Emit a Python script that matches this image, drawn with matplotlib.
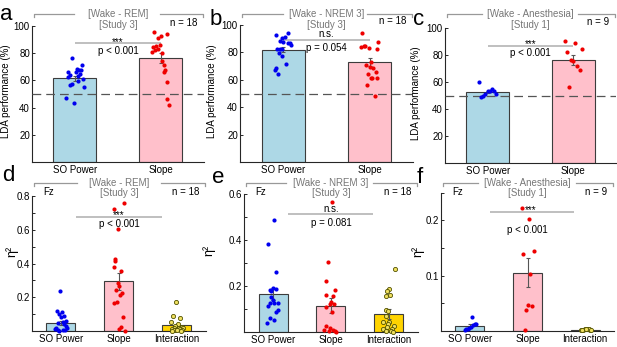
import numpy as np
import matplotlib.pyplot as plt
from matplotlib import transforms

plt.rcParams['font.family'] = ['Liberation Sans', 'DejaVu Sans']
plt.rcParams['font.size'] = 7

W, H = 617, 347

# ---------------- data ----------------
top_groups = ['SO Power', 'Slope']
bottom_groups = ['SO Power', 'Slope', 'Interaction']

# a: Wake - REM (Study 3), LDA performance
a_so = [76.5, 71, 68, 68.5, 66, 66, 65, 63, 64, 61, 59.5, 57.5, 56.5, 55.5, 47, 43.5, 62.5, 67.5]
a_so_jit = [-0.03, 0.08, 0.05, 0.02, -0.08, 0.01, 0.06, 0.04, -0.06, 0.09, 0.03, -0.04, -0.06, 0.10, -0.10, -0.01, -0.08, 0.07]
a_slope = [95.5, 94, 92.5, 91, 86, 84.5, 85, 83, 82, 81, 80.5, 74.5, 71, 67.5, 66, 59, 46.5, 42]
a_slope_jit = [-0.08, 0.07, 0, -0.03, -0.01, -0.09, -0.06, -0.04, -0.07, -0.10, 0.01, 0.01, 0.03, 0.05, 0.03, 0.07, 0.07, 0.09]
a_mean = [61.5, 76.5]
a_sem = [1.8, 3.5]

# b: Wake - NREM 3 (Study 3)
b_so = [92.4, 93.9, 90.2, 91, 88.5, 87.8, 86.6, 87.1, 85.4, 82.2, 82.2, 79.8, 77.3, 68.3, 67.1, 71.5, 63.9, 82.5]
b_so_jit = [-0.085, 0.05, -0.01, 0.02, -0.04, 0, 0.06, 0.08, 0.085, -0.07, -0.04, -0.05, -0.01, -0.085, -0.1, 0.03, -0.055, -0.02]
b_slope = [93.9, 84.1, 84.9, 84.6, 82.9, 82.2, 87.8, 73.2, 70.7, 69.5, 68.3, 65.9, 64.1, 61.5, 61, 61.5, 56.1, 48.0]
b_slope_jit = [-0.09, -0.1, -0.07, -0.05, -0.01, 0.08, 0.1, 0.01, -0.04, 0, 0.04, 0.07, -0.02, 0.01, 0.03, 0.085, -0.03, 0.065]
b_mean = [82, 73]
b_sem = [2.0, 3.0]

# c: Wake - Anesthesia (Study 1)
c_so = [59.7, 48.8, 49.8, 51.2, 53, 53.7, 54.7, 53, 51.2]
c_so_jit = [-0.105, -0.08, -0.055, -0.035, 0, 0.025, 0.05, 0.075, 0.1]
c_slope = [90.6, 88.9, 84.4, 82.2, 76, 75.7, 71.5, 69.1, 56.2]
c_slope_jit = [-0.1, 0.025, 0.1, -0.07, -0.025, 0, 0.04, 0.075, -0.05]
c_mean = [52.5, 76.5]
c_sem = [1.0, 3.6]

# d: eta^2, Wake - REM
d_so = [0.24, 0.12, 0.11, 0.10, 0.09, 0.085, 0.06, 0.055, 0.045, 0.04, 0.03, 0.02, 0.015, 0.01, 0.008, 0.005, 0.003, 0.002]
d_so_jit = [-0.02, -0.07, 0.02, -0.03, 0.05, 0.0, 0.08, 0.04, -0.05, 0.06, 0.09, -0.08, 0.1, -0.1, 0.03, -0.06, 0.07, -0.04]
d_slope = [0.723, 0.757, 0.603, 0.425, 0.415, 0.381, 0.358, 0.283, 0.267, 0.243, 0.227, 0.215, 0.164, 0.174, 0.085, 0.01, 0.002, 0.026]
d_slope_jit = [-0.09, 0.08, -0.02, -0.075, -0.065, -0.085, 0.04, -0.02, 0.005, -0.05, 0.05, 0.02, -0.09, -0.035, 0.065, 0.005, 0.1, 0.03]
d_int = [0.17, 0.09, 0.08, 0.055, 0.04, 0.03, 0.025, 0.02, 0.018, 0.015, 0.012, 0.01, 0.008, 0.006, 0.004, 0.003, 0.002, 0.001]
d_int_jit = [-0.02, -0.07, 0.06, -0.1, 0.02, -0.04, 0.08, -0.06, 0.1, 0.03, -0.09, 0.05, -0.03, 0.09, -0.05, 0.0, 0.07, -0.08]
d_mean = [0.048, 0.295, 0.033]
d_sem = [0.012, 0.05, 0.01]

# e: eta^2, Wake - NREM 3
e_so = [0.487, 0.383, 0.26, 0.193, 0.183, 0.187, 0.18, 0.154, 0.14, 0.126, 0.126, 0.126, 0.111, 0.089, 0.096, 0.061, 0.053, 0.039]
e_so_jit = [0.02, -0.09, 0.06, 0, -0.06, 0.05, -0.03, -0.03, 0, -0.05, 0.02, 0.08, -0.08, 0.05, 0.08, -0.05, 0.02, -0.11]
e_slope = [0.567, 0.306, 0.223, 0.181, 0.159, 0.158, 0.13, 0.12, 0.11, 0.12, 0.085, 0.025, 0.017, 0.01, 0.007, 0.005, 0.003, 0.002]
e_slope_jit = [0.02, -0.06, -0.09, 0.075, -0.09, 0.035, 0.005, -0.01, -0.08, 0.06, 0.02, -0.09, -0.01, -0.12, 0.035, 0.07, -0.04, 0.09]
e_int = [0.275, 0.185, 0.18, 0.16, 0.155, 0.095, 0.093, 0.07, 0.045, 0.043, 0.035, 0.025, 0.02, 0.014, 0.012, 0.006, 0.005, 0.002]
e_int_jit = [0.1, 0, -0.03, 0.02, -0.06, -0.06, -0.02, -0.05, -0.1, 0, -0.02, 0.08, -0.035, 0.06, -0.1, -0.06, 0.04, 0.07]
e_mean = [0.165, 0.115, 0.078]
e_sem = [0.025, 0.033, 0.02]

# f: eta^2, Wake - Anesthesia
f_so = [0.026, 0.012, 0.011, 0.008, 0.005, 0.003, 0.001, 0.012, 0.004]
f_so_jit = [0.04, 0.09, 0.06, 0.02, -0.01, -0.06, -0.09, 0.1, -0.03]
f_slope = [0.222, 0.203, 0.145, 0.139, 0.103, 0.047, 0.045, 0.038, 0.002]
f_slope_jit = [-0.1, 0.03, 0.11, -0.075, 0.05, 0, 0.08, -0.03, -0.045]
f_int = [0.004, 0.003, 0.002, 0.002, 0.001, 0.003, 0.002, 0.001, 0.003]
f_int_jit = [0.0, 0.04, -0.04, 0.08, -0.08, 0.06, -0.06, 0.1, 0.02]
f_mean = [0.009, 0.105, 0.002]
f_sem = [0.003, 0.026, 0.0005]

bar_colors = ['#add8e6', '#ffc0cb', '#ffd400']

fig = plt.figure(figsize=(W / 100, H / 100), dpi=100)


def px_axes(l, r, t, b):
    return fig.add_axes([l / W, 1 - b / H, (r - l) / W, (b - t) / H])


def draw_panel(ax, groups, values, jitters, means, sems, ylim):
    x = np.arange(1, len(groups) + 1)
    ax.bar(x, means, width=0.5, color=bar_colors[:len(groups)], edgecolor='#3c3c3c',
           linewidth=0.8, zorder=1)
    ax.errorbar(x, means, yerr=sems, fmt='none', ecolor='#555555', elinewidth=0.8,
                capsize=1.5, capthick=0.8, zorder=2)
    for i, (vals, jit) in enumerate(zip(values, jitters)):
        xs = x[i] + np.array(jit)
        if i == 0:
            ax.plot(xs, vals, 'o', ms=3, mfc='#0000ee', mec='#0000ee', mew=0, zorder=4, clip_on=False)
        elif i == 1:
            ax.plot(xs, vals, 'o', ms=3, mfc='#ee0000', mec='#ee0000', mew=0, zorder=4, clip_on=False)
        else:
            ax.plot(xs, vals, 'o', ms=3, mfc='#f0e060', mec='#505000', mew=0.6, zorder=4, clip_on=False)
    ax.set_xlim(0.5, len(groups) + 0.5)
    ax.set_ylim(*ylim)
    ax.set_xticks(x)
    ax.set_xticklabels(groups)
    for s in ['top', 'right']:
        ax.spines[s].set_visible(False)
    for s in ['left', 'bottom']:
        ax.spines[s].set_color('#262626')
        ax.spines[s].set_linewidth(0.8)
    ax.tick_params(axis='x', length=0, pad=2.5, labelsize=7)
    ax.tick_params(axis='y', direction='in', length=2.5, width=0.7, pad=1.5,
                   labelsize=7, color='#262626')


def header(ax, ypx_line, ypx_study, title, study, n_text, n_ypx, gap, fz_ypx=None):
    tr = transforms.blended_transform_factory(ax.transAxes, fig.transFigure)
    yl = 1 - ypx_line / H
    dy = 2.5 / H
    ax.plot([0.01, 0.01, gap[0]], [yl - dy, yl, yl], transform=tr, color='#999999',
            lw=0.9, clip_on=False)
    ax.plot([gap[1], 0.995, 0.995], [yl, yl, yl - dy], transform=tr, color='#999999',
            lw=0.9, clip_on=False)
    ax.text(0.5, yl, title, transform=tr, ha='center', va='center', color='#777777', fontsize=7)
    ax.text(0.5, 1 - ypx_study / H, study, transform=tr, ha='center', va='center',
            color='#777777', fontsize=7)
    ax.text(0.96, 1 - n_ypx / H, n_text, transform=tr, ha='right', va='center', fontsize=7)
    if fz_ypx is not None:
        ax.text(0.065, 1 - fz_ypx / H, 'Fz', transform=tr, ha='left', va='center', fontsize=7)


def significance(ax, x0, x1, y, mark, ptext, mark_x, mark_off, p_off):
    ax.plot([x0, x1], [y, y], color='#b4b4b4', lw=1.2, zorder=3, solid_capstyle='butt')
    ax.annotate(mark, xy=(mark_x, y), xytext=(0, mark_off), textcoords='offset points',
                ha='center', va='baseline', fontsize=7, zorder=5)
    ax.annotate(ptext, xy=((x0 + x1) / 2 if mark_x == 1.5 else 2, y), xytext=(0, p_off),
                textcoords='offset points', ha='center', va='top', fontsize=7, zorder=5)


# ---------------- top row ----------------
ax_a = px_axes(32, 204, 26, 162)
ax_b = px_axes(240, 413, 25, 162)
ax_c = px_axes(445, 616, 28, 163)

top_specs = [
    (ax_a, [a_so, a_slope], [a_so_jit, a_slope_jit], a_mean, a_sem,
     '[Wake - REM]', '[Study 3]', 'n = 18', 23, (0.245, 0.745),
     87.3, '***', 'p < 0.001', -1, -2, -0.122),
    (ax_b, [b_so, b_slope], [b_so_jit, b_slope_jit], b_mean, b_sem,
     '[Wake - NREM 3]', '[Study 3]', 'n = 18', 21, (0.25, 0.735),
     89, 'n.s.', 'p = 0.054', 2, -2, -0.135),
    (ax_c, [c_so, c_slope], [c_so_jit, c_slope_jit], c_mean, c_sem,
     '[Wake - Anesthesia]', '[Study 1]', 'n = 9', 22, (0.215, 0.78),
     86.8, '***', 'p < 0.001', -1, -1.5, -0.14),
]
for (ax, vals, jits, mean, sem, title, study, ntext, nypx, gap,
     sig_y, mark, ptext, moff, poff, ylx) in top_specs:
    draw_panel(ax, top_groups, vals, jits, mean, sem, (0, 100))
    ax.set_yticks([0, 20, 40, 60, 80, 100])
    ax.set_yticklabels(['', '20', '40', '60', '80', '100'])
    ax.axhline(50, color='#555555', lw=0.9, dashes=(7, 4), zorder=3)
    ax.set_ylabel('LDA performance (%)', fontsize=7)
    ax.yaxis.set_label_coords(ylx, 0.52)
    header(ax, 14, 25, title, study, ntext, nypx, gap)
    significance(ax, 1, 2, sig_y, mark, ptext, 1.5, moff, poff)

# ---------------- bottom row ----------------
ax_d = px_axes(32, 206, 196, 331)
ax_e = px_axes(244, 418, 194, 332)
ax_f = px_axes(441, 614, 192.5, 331)

draw_panel(ax_d, bottom_groups, [d_so, d_slope, d_int], [d_so_jit, d_slope_jit, d_int_jit],
           d_mean, d_sem, (0, 0.8))
ax_d.set_yticks(np.round(np.arange(0, 0.81, 0.1), 2))
ax_d.set_yticklabels(['', '', '0.2', '', '0.4', '', '0.6', '', '0.8'])
ax_d.set_ylabel('η²', fontsize=9)
ax_d.yaxis.set_label_coords(-0.076, 0.59)
header(ax_d, 183, 193, '[Wake - REM]', '[Study 3]', 'n = 18', 192, (0.26, 0.74), fz_ypx=192)
significance(ax_d, 1.25, 2.75, 0.677, '***', 'p < 0.001', 2, -1, -1.5)

draw_panel(ax_e, bottom_groups, [e_so, e_slope, e_int], [e_so_jit, e_slope_jit, e_int_jit],
           e_mean, e_sem, (0, 0.6))
ax_e.set_yticks(np.round(np.arange(0, 0.61, 0.1), 2))
ax_e.set_yticklabels(['', '', '0.2', '', '0.4', '', '0.6'])
ax_e.set_ylabel('η²', fontsize=9)
ax_e.yaxis.set_label_coords(-0.165, 0.594)
header(ax_e, 183, 193, '[Wake - NREM 3]', '[Study 3]', 'n = 18', 192, (0.24, 0.74), fz_ypx=192)
significance(ax_e, 1.25, 2.72, 0.512, 'n.s.', 'p = 0.081', 2, 1.5, -2.5)

draw_panel(ax_f, bottom_groups, [f_so, f_slope, f_int], [f_so_jit, f_slope_jit, f_int_jit],
           f_mean, f_sem, (0, 0.25))
ax_f.set_yticks(np.round(np.arange(0, 0.251, 0.05), 2))
ax_f.set_yticklabels(['', '', '0.1', '', '0.2', ''])
ax_f.set_ylabel('η²', fontsize=9)
ax_f.yaxis.set_label_coords(-0.095, 0.574)
header(ax_f, 183, 193, '[Wake - Anesthesia]', '[Study 1]', 'n = 9', 192, (0.215, 0.78), fz_ypx=192)
significance(ax_f, 1.35, 2.8, 0.215, '***', 'p < 0.001', 2.06, -1, -9.5)

# ---------------- panel letters ----------------
for letter, xpx, ypx in [('a', 0, 20), ('b', 210, 25), ('c', 413, 25),
                         ('d', 2, 181), ('e', 212, 183), ('f', 417, 183)]:
    fig.text(xpx / W, 1 - ypx / H, letter, fontsize=16, ha='left', va='baseline')

fig.savefig('out.png', dpi=100)
